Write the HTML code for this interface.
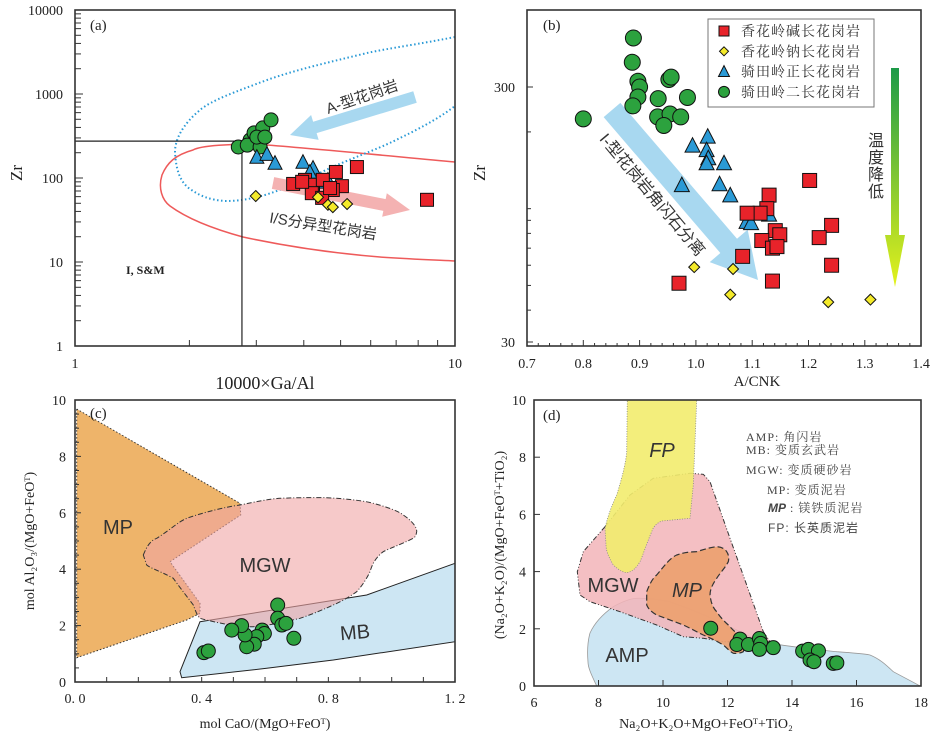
<!DOCTYPE html>
<html><head><meta charset="utf-8"><style>
html,body{margin:0;padding:0;background:#fff;}
svg{display:block;font-family:"Liberation Serif","Noto Serif CJK SC",serif;}
.cjk{font-family:"Liberation Sans","Noto Sans CJK SC",sans-serif;}
.cjks{font-family:"Liberation Serif","Noto Serif CJK SC",serif;}
.sans{font-family:"Liberation Sans",sans-serif;}
</style></head><body>
<svg id="fig" width="937" height="736" viewBox="0 0 937 736" xmlns="http://www.w3.org/2000/svg">
<defs>
<linearGradient id="tgrad" x1="0" y1="0" x2="0" y2="1"><stop offset="0" stop-color="#1c9a48"/><stop offset="1" stop-color="#e4f21c"/></linearGradient>
</defs>
<g>
<path d="M455,162 C400,157 330,150 267,145 C230,143 200,146 193,150 C175,155 167,163 162,175 C158,188 162,200 170,206 C185,217 210,228 243,237 C280,245 330,253 380,257 C410,259 435,260 455,261" fill="none" stroke="#ee5a5a" stroke-width="1.5"/>
<path d="M455,37 C420,44 390,48 367,53 C330,62 295,70 267,80 C235,92 212,100 200,110 C182,125 175,140 175,152 C176,170 180,182 190,189 C200,196 210,200 225,201 C240,201 250,199 265,195 C290,187 310,178 330,168 C360,155 383,147 400,138 C425,126 442,116 455,106" fill="none" stroke="#2a9ad6" stroke-width="2" stroke-dasharray="1.5 2.5"/>
</g>
<g>
<polygon points="76.7,409 240,503.3 240.7,515 170,561.7 200,603.3 200,613.3 186.7,620 76.7,657.7" fill="#eeb46a" stroke="#333" stroke-width="1" stroke-dasharray="1.5 2"/>
<polygon points="200,621.7 366.7,595 455,563.3 455,641.7 333.3,660 266.7,668.3 181.7,677.7 180,671.7" fill="#cde6f3" stroke="#222" stroke-width="1"/>
<path d="M143.3,555 C147,546 150,541 156.7,538.3 C170,530 178,522 186.7,518.3 C205,512 225,507 240,505 C255,502 268,499 280,498.3 C300,497.5 315,497.5 326.7,497.7 C350,499 365,501 373.3,503.3 C390,508 398,511 403.3,515 C412,521 417,527 416.7,531.7 C416,536 415,537 413.3,538.3 C400,545 390,548 383.3,551.7 C375,558 372,565 370,571.7 C365,582 360,588 356.7,591.7 C348,598 340,602 333.3,605 C320,611 310,615 300,618.3 C280,623 265,626 253.3,626.7 C243,627 235,626 230,625 C215,622 205,620 200,618.3 C196,614 195,609 193.3,605 C185,594 178,585 173.3,578.3 C160,571 150,568 146.7,565 Z" fill="rgba(240,165,165,0.6)" stroke="#333" stroke-width="1" stroke-dasharray="5 2 1 2"/>
</g>
<g>
<path d="M596.7,686 C592,676 588,668 588,662 C587,650 588,640 590,633 C595,622 603,614 613.3,606.7 C625,600 633,598.5 636.7,598.3 C650,598 662,600 670,601.7 C700,612 720,622 736.7,630 C750,637 760,641 770,643.3 C800,648 820,650 836.7,651.7 C855,653 865,654 870,655 C882,660 888,667 893.3,671.7 C905,678 913,682 920,686 Z" fill="#cde6f3" stroke="#999" stroke-width="0.8"/>
<path d="M605,526.7 L630,495 L653.3,478.3 L690,473.3 L703.3,474.3 L710,481.7 L730,538.3 L746.7,585 L763.3,631.7 L770,641.7 L723.3,641.7 L703.3,638.3 L683.3,636.7 L656.7,625 L620,611.7 L590,601.7 L580,595 L577.3,571.7 L583.3,551.7 Z" fill="rgba(242,180,185,0.85)" stroke="#333" stroke-width="1" stroke-dasharray="5 2 1 2 1 2"/>
<path d="M627.3,400 L696.7,400 L693.3,485 L690,518.3 L661.7,521 C655,524 653,528 651.7,531.7 C646,545 643,555 640,561.7 C636,568 633,571 628,572.5 C624,573 620,571 613.3,565 C608,556 606,550 606,545 L605,528.3 C608,515 612,505 616.7,495 C622,478 626,462 626.7,451.7 Z" fill="rgba(242,236,110,0.9)" stroke="#888" stroke-width="0.8" stroke-dasharray="1 1.5"/>
<path d="M646.7,591.7 C650,583 653,578 656.7,575 C665,565 670,558 676.7,555 C685,552 690,552 696.7,551.7 C705,549 712,547 716.7,546.7 C722,547 725,549 726.7,551.7 C729,555 729,559 728.3,561.7 C725,568 720,573 716.7,578.3 C712,585 710,590 710,595 C711,603 713,608 716.7,611.7 C720,617 725,622 728.3,625 C732,629 734,631 736.7,633.3 C740,638 742,641 743.3,645 C744,648 744,650 743.3,651.7 C740,653.5 736,653.5 733.3,653.3 C728,650 726,647 723.3,645 C715,640 708,637 703.3,635 C695,631 690,628 683.3,625 C670,620 662,617 656.7,615 C650,611 648,608 646.7,605 Z" fill="rgba(236,160,110,0.9)" stroke="#333" stroke-width="1.2" stroke-dasharray="6 3"/>
</g>
<g id="layer"></g>
</svg>
<script>
const aGreenX=[2.69,2.89,2.96,3.12,3.28,2.84,3.07,3.01,3.16];
const aGreenY=[234,284,345,395,492,246,234,307,307];
const aBlueX=[3.01,3.2,3.36,3.98,4.23,4.15,4.36,4.63];
const aBlueY=[178,193,151,155,132,118,90,95];
const aRedX=[3.75,4.03,4.23,4.49,4.86,5.04,4.77,4.2,4.47,5.52,8.44,3.96,4.69];
const aRedY=[85,95,83,95,118,80,72,66,58,135,55,90,76];
const aYelX=[2.99,4.36,4.63,4.77,5.2];
const aYelY=[61,59,48,45,49];
const aYTicks=[1,10,100,1000,10000];
const aXTicks=[1,10];
const aDivX=2.75, aDivY=275;
const bGreenX=[0.889,0.887,0.897,0.9,0.897,0.888,0.8,0.933,0.952,0.956,0.985,0.932,0.954,0.973,0.943];
const bGreenY=[467,375,316,300,274,253,225,270,321,328,273,229,235,229,212];
const bBlueX=[1.021,0.994,1.019,1.022,1.019,1.05,0.975,1.042,1.061,1.13,1.09,1.098];
const bBlueY=[192,177,170,158,151,151,124,125,113,95,89,88];
const bRedX=[1.202,1.13,1.126,1.114,1.091,1.141,1.149,1.117,1.136,1.144,1.241,1.219,1.083,0.97,1.136,1.241];
const bRedY=[129,113,100,96,96,82,79,75,70,71,86,77,65,51,52,60];
const bYelX=[0.997,1.066,1.061,1.235,1.31];
const bYelY=[59,58,46,43,44];
const bXTicks=[0.7,0.8,0.9,1.0,1.1,1.2,1.3,1.4];
const bYTicks=[30,300];
const bLegend=["香花岭碱长花岗岩","香花岭钠长花岗岩","骑田岭正长花岗岩","骑田岭二长花岗岩"];
const cX=[0.64,0.64,0.653,0.666,0.691,0.591,0.598,0.574,0.566,0.542,0.537,0.526,0.495,0.407,0.421];
const cY=[2.73,2.26,2.02,2.08,1.55,1.84,1.72,1.61,1.34,1.25,1.67,2.0,1.84,1.04,1.1];
const cXTicks=[0,0.4,0.8,1.2];
const cXLabels=["0. 0","0. 4","0. 8","1. 2"];
const cYTicks=[0,2,4,6,8,10];
const dX=[11.48,12.39,12.29,12.65,12.99,13.03,12.99,13.42,14.33,14.51,14.82,14.56,14.68,15.28,15.39];
const dY=[2.02,1.64,1.45,1.45,1.66,1.49,1.28,1.34,1.22,1.28,1.23,0.91,0.85,0.79,0.81];
const dXTicks=[6,8,10,12,14,16,18];
const dYTicks=[0,2,4,6,8,10];

const ax=v=>75+Math.log10(v)*380, ay=v=>346-Math.log10(v)*84;
const bx=v=>527+(v-0.7)*563, by=v=>87-(Math.log10(v)-Math.log10(300))*255;
const cx=v=>75+v*316.7, cy=v=>682-v*28.2;
const dx=v=>534+(v-6)*32.25, dy=v=>686-v*28.6;

const NS="http://www.w3.org/2000/svg";
const layer=document.getElementById('layer');
function mk(tag,attrs,name,parent){
  const el=document.createElementNS(NS,tag);
  for(const k in attrs) el.setAttribute(k,attrs[k]);
  
  
  (parent||layer).appendChild(el);
  return el;
}
function txt(x,y,s,name,attrs){
  const a=Object.assign({x:x,y:y,'font-size':14,fill:'#222'},attrs||{});
  const t=mk('text',a,name);
  t.textContent=s;
  return t;
}
function circle(x,y,r,name){return mk('circle',{cx:x,cy:y,r:r,fill:'#2ca23e',stroke:'#111','stroke-width':1},name);}
function square(x,y,s,name){return mk('rect',{x:x-s/2,y:y-s/2,width:s,height:s,fill:'#e8232a',stroke:'#111','stroke-width':1},name);}
function tri(x,y,s,name){const h=s*0.9;return mk('polygon',{points:`${x},${y-h/2-1} ${x-s/2},${y+h/2} ${x+s/2},${y+h/2}`,fill:'#2a9ad6',stroke:'#111','stroke-width':1},name);}
function dia(x,y,s,name){return mk('polygon',{points:`${x},${y-s/2} ${x+s/2},${y} ${x},${y+s/2} ${x-s/2},${y}`,fill:'#f4ea2a',stroke:'#111','stroke-width':1},name);}
function arrow(x1,y1,x2,y2,sw,hw,hl,fill,name){
  const L=Math.hypot(x2-x1,y2-y1),ux=(x2-x1)/L,uy=(y2-y1)/L,nx=-uy,ny=ux;
  const bx0=x2-ux*hl,by0=y2-uy*hl;
  const p=[[x1+nx*sw,y1+ny*sw],[bx0+nx*sw,by0+ny*sw],[bx0+nx*hw,by0+ny*hw],[x2,y2],[bx0-nx*hw,by0-ny*hw],[bx0-nx*sw,by0-ny*sw],[x1-nx*sw,y1-ny*sw]];
  return mk('polygon',{points:p.map(q=>q.join(',')).join(' '),fill:fill},name);
}
function frame(x,y,w,h,name){return mk('rect',{x:x,y:y,width:w,height:h,fill:'none',stroke:'#333','stroke-width':1.6},name);}
function tick(x1,y1,x2,y2,name){return mk('line',{x1:x1,y1:y1,x2:x2,y2:y2,stroke:'#333','stroke-width':1},name);}

// Panel (a)
arrow(415,97,290,135,6,13,26,'#a8d8f0','a-type-arrow');
arrow(273,183,410,210,6,12,26,'#f4b2b2','is-arrow');
txt(362,102,'A-型花岗岩','a-type-label',{'font-size':15,'text-anchor':'middle',transform:'rotate(-19 362 97)',class:'cjk',fill:'#333'});
txt(323,231,'I/S分异型花岗岩','is-label',{'font-size':15,'text-anchor':'middle',transform:'rotate(9 323 227)',class:'cjk',fill:'#333'});
mk('line',{x1:75,y1:ay(aDivY),x2:ax(aDivX),y2:ay(aDivY),stroke:'#222','stroke-width':1.2},'a-divider-horizontal');
mk('line',{x1:ax(aDivX),y1:ay(aDivY),x2:ax(aDivX),y2:346,stroke:'#222','stroke-width':1.2},'a-divider-vertical');
aGreenX.forEach((v,i)=>circle(ax(v),ay(aGreenY[i]),7,'a-point-monzogranite'));
aBlueX.forEach((v,i)=>tri(ax(v),ay(aBlueY[i]),14,'a-point-syenogranite'));
aRedX.forEach((v,i)=>square(ax(v),ay(aRedY[i]),13,'a-point-alkali-feldspar-granite'));
aYelX.forEach((v,i)=>dia(ax(v),ay(aYelY[i]),11,'a-point-albite-granite'));
frame(75,10,380,336,'a-plot-frame');
for(let d=0;d<4;d++)for(let m=1;m<10;m++){const v=Math.pow(10,d)*m;tick(75,ay(v),m==1?83:81,ay(v),'a-y-tick');}
for(let m=2;m<10;m++)tick(ax(m),346,ax(m),340,'a-x-tick');
aYTicks.forEach(v=>txt(63,ay(v)+5,String(v),'a-y-tick-label',{'text-anchor':'end','font-size':14}));
aXTicks.forEach(v=>txt(ax(v),368,String(v),'a-x-tick-label',{'text-anchor':'middle','font-size':14}));
txt(265,389,'10000×Ga/Al','a-x-axis-title',{'text-anchor':'middle','font-size':18});
txt(27,178,'Zr','a-y-axis-title',{'text-anchor':'middle','font-size':17,transform:'rotate(-90 22 178)'});
txt(90,30,'(a)','a-panel-label',{'font-size':15});
txt(126,274,'I, S&M','a-ism-label',{'font-size':12,'font-weight':'bold'});

// Panel (b)
arrow(612,110,758,280,11,25,45,'#a8d8f0','fractionation-arrow');
txt(652,200,'I-型花岗岩角闪石分离','fractionation-label',{'font-size':16,'text-anchor':'middle',transform:'rotate(50 652 195)',class:'cjk',fill:'#333'});
mk('polygon',{points:'891,68 899,68 899,235 905,235 895,287 885,235 891,235',fill:'url(#tgrad)'},'temperature-arrow');
['温','度','降','低'].forEach((c,i)=>txt(876,146+i*17,c,'temperature-label',{'font-size':16,'text-anchor':'middle',class:'cjk',fill:'#333'}));
bGreenX.forEach((v,i)=>circle(bx(v),by(bGreenY[i]),8,'b-point-monzogranite'));
bBlueX.forEach((v,i)=>tri(bx(v),by(bBlueY[i]),15,'b-point-syenogranite'));
bRedX.forEach((v,i)=>square(bx(v),by(bRedY[i]),14,'b-point-alkali-feldspar-granite'));
bYelX.forEach((v,i)=>dia(bx(v),by(bYelY[i]),11,'b-point-albite-granite'));
frame(527,10,394,336,'b-plot-frame');
for(let v=0.7;v<=1.4001;v+=0.02){const big=Math.abs(v*10-Math.round(v*10))<1e-6;tick(bx(v),346,bx(v),big?340:343,'b-x-tick');}
bXTicks.forEach(v=>txt(bx(v),368,v.toFixed(1),'b-x-tick-label',{'text-anchor':'middle','font-size':14}));
bYTicks.forEach(v=>{tick(527,by(v),533,by(v),'b-y-tick');txt(515,by(v)+5,String(v),'b-y-tick-label',{'text-anchor':'end','font-size':14});});
[40,50,60,70,80,90,100,200].forEach(v=>tick(527,by(v),531,by(v),'b-y-minor-tick'));
txt(757,386,'A/CNK','b-x-axis-title',{'text-anchor':'middle','font-size':15});
txt(490,178,'Zr','b-y-axis-title',{'text-anchor':'middle','font-size':17,transform:'rotate(-90 485 178)'});
txt(543,30,'(b)','b-panel-label',{'font-size':15});
mk('rect',{x:708,y:19,width:166,height:88,fill:'#fff',stroke:'#777','stroke-width':1},'b-legend-box');
bLegend.forEach((s,i)=>{
  const y=31+i*20.3;
  if(i==0)square(724,y,10,'legend-marker-red');
  if(i==1)dia(724,y,9,'legend-marker-yellow');
  if(i==2)tri(724,y,11,'legend-marker-blue');
  if(i==3)circle(724,y,5.5,'legend-marker-green');
  txt(741,y+5,s,'legend-entry',{'font-size':14,class:'cjks',fill:'#333','letter-spacing':'1'});
});

// Panel (c)
cX.forEach((v,i)=>circle(cx(v),cy(cY[i]),7,'c-point-monzogranite'));
frame(75,400,380,282,'c-plot-frame');
for(let v=0;v<=1.2001;v+=0.1)tick(cx(v),682,cx(v),677,'c-x-tick');
for(let v=0;v<=10;v+=0.5)tick(75,cy(v),v%2==0?81:79,cy(v),'c-y-tick');
cXTicks.forEach((v,i)=>txt(cx(v),703,cXLabels[i],'c-x-tick-label',{'text-anchor':'middle','font-size':14}));
cYTicks.forEach(v=>txt(66,cy(v)+5,String(v),'c-y-tick-label',{'text-anchor':'end','font-size':14}));
txt(265,728,'mol CaO/(MgO+FeOᵀ)','c-x-axis-title',{'text-anchor':'middle','font-size':14});
txt(34,541,'mol Al₂O₃/(MgO+FeOᵀ)','c-y-axis-title',{'text-anchor':'middle','font-size':14,transform:'rotate(-90 34 541)'});
txt(90,418,'(c)','c-panel-label',{'font-size':15});
txt(118,534,'MP','c-mp-label',{'text-anchor':'middle','font-size':20,class:'sans',fill:'#333'});
txt(265,572,'MGW','c-mgw-label',{'text-anchor':'middle','font-size':20,class:'sans',fill:'#333'});
txt(355,639,'MB','c-mb-label',{'text-anchor':'middle','font-size':20,class:'sans',fill:'#333',transform:'rotate(-5 355 632)'});

// Panel (d)
dX.forEach((v,i)=>circle(dx(v),dy(dY[i]),7,'d-point-monzogranite'));
frame(534,400,387,286,'d-plot-frame');
dXTicks.forEach(v=>{tick(dx(v),686,dx(v),680,'d-x-tick');txt(dx(v),707,String(v),'d-x-tick-label',{'text-anchor':'middle','font-size':14});});
dYTicks.forEach(v=>{tick(534,dy(v),540,dy(v),'d-y-tick');txt(526,dy(v)+5,String(v),'d-y-tick-label',{'text-anchor':'end','font-size':14});});
txt(706,728,'Na₂O+K₂O+MgO+FeOᵀ+TiO₂','d-x-axis-title',{'text-anchor':'middle','font-size':14});
txt(504,545,'(Na₂O+K₂O)/(MgO+FeOᵀ+TiO₂)','d-y-axis-title',{'text-anchor':'middle','font-size':14,transform:'rotate(-90 504 545)'});
txt(543,420,'(d)','d-panel-label',{'font-size':15});
txt(662,457,'FP','d-fp-label',{'text-anchor':'middle','font-size':20,'font-style':'italic',class:'sans',fill:'#333'});
txt(613,592,'MGW','d-mgw-label',{'text-anchor':'middle','font-size':20,class:'sans',fill:'#333'});
txt(687,597,'MP','d-mp-label',{'text-anchor':'middle','font-size':20,'font-style':'italic',class:'sans',fill:'#333'});
txt(627,662,'AMP','d-amp-label',{'text-anchor':'middle','font-size':20,class:'sans',fill:'#333'});
const dLeg=[[746,441,'AMP: 角闪岩'],[746,454,'MB: 变质玄武岩'],[746,474,'MGW: 变质硬砂岩'],[767,494,'MP: 变质泥岩'],[768,512,'镁铁质泥岩'],[768,532,'FP: 长英质泥岩']];
dLeg.forEach((r,i)=>{
  if(i==4){txt(r[0],r[1],'MP','d-legend-entry-mp-italic',{'font-size':12,'font-style':'italic','font-weight':'bold',class:'sans',fill:'#444'});
    txt(r[0]+22,r[1],': 镁铁质泥岩','d-legend-entry',{'font-size':12,class:'cjks',fill:'#444','letter-spacing':'1'});}
  else txt(r[0],r[1],r[2],'d-legend-entry',{'font-size':12,class:i==5?'cjk':'cjks',fill:'#444','letter-spacing':'1'});
});
</script>
</body></html>
